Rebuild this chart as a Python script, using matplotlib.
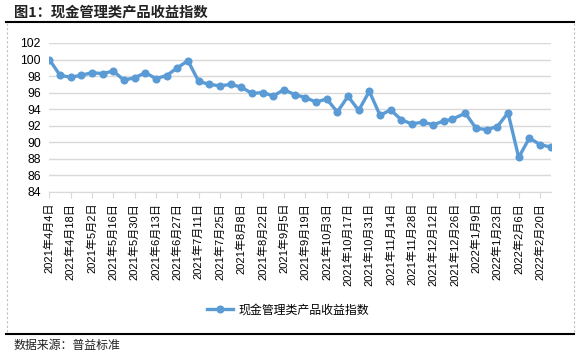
import matplotlib
matplotlib.use("Agg")
import matplotlib.pyplot as plt
import matplotlib.dates as mdates
import numpy as np
import pandas as pd
from matplotlib.lines import Line2D

# weekly index values
dates = list(pd.date_range("2021-04-04", "2022-02-27", freq="7D"))
dates[38] = pd.Timestamp("2021-12-24")  # this point sits a little left of its tick
index_values = [
    100.0, 98.1, 97.85, 98.1, 98.4, 98.3, 98.6, 97.5, 97.8, 98.4,
    97.7, 98.05, 99.0, 99.85, 97.35, 97.0, 96.8, 97.0, 96.65, 95.9,
    96.0, 95.6, 96.35, 95.75, 95.4, 94.85, 95.23, 93.65, 95.55, 93.85,
    96.15, 93.25, 93.9, 92.7, 92.2, 92.43, 92.1, 92.58, 92.74, 93.5,
    91.68, 91.52, 91.89, 93.55, 88.15, 90.5, 89.7, 89.4,
]
tick_dates = pd.date_range("2021-04-04", "2022-02-20", freq="14D")
tick_labels = [f"{d.year}年{d.month}月{d.day}日" for d in tick_dates]
y_ticks = list(range(84, 103, 2))

series_name = "现金管理类产品收益指数"
title_text = "图1：现金管理类产品收益指数"
source_text = "数据来源：普益标准"

line_color = "#5B9BD5"
cjk = ["Noto Sans CJK SC", "DejaVu Sans"]
mixed = ["Liberation Sans", "Noto Sans CJK SC"]

W, H = 582, 355
fig = plt.figure(figsize=(W / 100, H / 100), dpi=100)

ax = fig.add_axes([49.3 / W, 1 - 191.7 / H, (550.7 - 49.3) / W, (191.7 - 43) / H])
ax.plot(dates, index_values, color=line_color, lw=2.4, marker="o", ms=5.8,
        markeredgewidth=0, zorder=3)

ax.set_ylim(84, 102)
ax.set_yticks(y_ticks)
ax.set_xlim(pd.Timestamp("2021-04-04"), pd.Timestamp("2022-02-27"))
ax.set_xticks(tick_dates)
ax.set_xticklabels(tick_labels, rotation=90, family=mixed, fontsize=8)
ax.xaxis.set_minor_locator(plt.NullLocator())

ax.grid(axis="y", color="#d9d9d9", lw=1)
ax.set_axisbelow(True)
for s in ["top", "right", "left"]:
    ax.spines[s].set_visible(False)
ax.spines["bottom"].set_color("#d9d9d9")
ax.tick_params(axis="x", length=4, color="#d9d9d9", pad=4)
ax.tick_params(axis="y", length=0, pad=6, labelsize=8.8)
for lab in ax.get_yticklabels():
    lab.set_family("Liberation Sans")

# title, rules and source note
fig.text(14 / W, 1 - 12 / H, title_text, family=cjk, fontsize=10.3,
         fontweight="bold", va="center", ha="left", color="#222222")
fig.add_artist(Line2D([6 / W, 574 / W], [1 - 22 / H, 1 - 22 / H],
                      color="black", lw=1.5))
fig.add_artist(Line2D([6 / W, 574 / W], [1 - 334 / H, 1 - 334 / H],
                      color="black", lw=1.5))
for xx in [7, 574]:
    fig.add_artist(Line2D([xx / W, xx / W], [1 - 23 / H, 1 - 333 / H],
                          color="#bfbfbf", lw=0.8, ls=(0, (2, 2))))
fig.text(14 / W, 1 - 345 / H, source_text, family=cjk, fontsize=8.6,
         va="center", ha="left", color="#222222")

handle = Line2D([], [], color=line_color, lw=2.4, marker="o", ms=5.8,
                markeredgewidth=0)
fig.legend([handle], [series_name], loc="center", frameon=False,
           bbox_to_anchor=(288 / W, 1 - 310 / H), prop={"family": cjk, "size": 8.6},
           handlelength=2.2, handletextpad=0.5)

fig.savefig("out.png", dpi=100)
